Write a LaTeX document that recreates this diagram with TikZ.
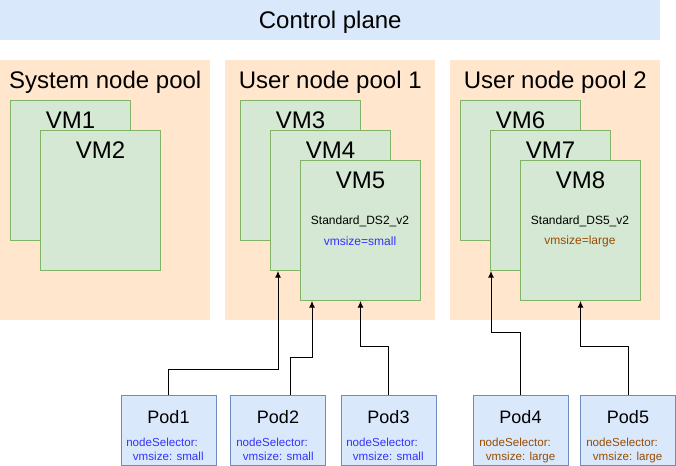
\documentclass[tikz,border=0pt]{standalone}
\usepackage{fontspec}
\setmainfont{Liberation Sans}
\usepackage{tikz}
\usetikzlibrary{arrows.meta}

\definecolor{planefill}{HTML}{DAE8FC}
\definecolor{poolfill}{HTML}{FFE6CC}
\definecolor{vmfill}{HTML}{D5E8D4}
\definecolor{vmedge}{HTML}{82B366}
\definecolor{podfill}{HTML}{DAE8FC}
\definecolor{podedge}{HTML}{6C8EBF}
\definecolor{selblue}{HTML}{3333FF}
\definecolor{selbrown}{HTML}{994C00}

\newcommand{\bigfont}{\fontsize{18}{20}\selectfont}

\tikzset{
	pool/.style={rectangle, fill=poolfill, anchor=north west, inner sep=0pt, minimum width=157.5pt, minimum height=195pt},
	vmbox/.style={rectangle, draw=vmedge, line width=0.75pt, fill=vmfill, anchor=north west, inner sep=0pt, minimum width=90pt, minimum height=105pt},
	podbox/.style={rectangle, draw=podedge, line width=0.75pt, fill=podfill, anchor=north west, inner sep=0pt, minimum width=71.25pt, minimum height=52.5pt},
	toplbl/.style={font=\bigfont, text depth=0pt, anchor=center, yshift=-15pt},
	podlbl/.style={font=\fontsize{13.5}{15}\selectfont, anchor=center, yshift=-16.5pt},
	sel/.style={font=\fontsize{8.7}{10.5}\selectfont, anchor=north west, align=left, inner sep=0pt},
	sizetxt/.style={font=\fontsize{9}{11}\selectfont},
	link/.style={-{Latex[length=5pt,width=4.5pt]}, line width=0.75pt}
}

\begin{document}
\begin{tikzpicture}[x=0.75pt,y=-0.75pt]
	\useasboundingbox (0,0) rectangle (676,466);
	
	% draw control plane
	\node[rectangle, fill=planefill, anchor=north west, inner sep=0pt, minimum width=495pt, minimum height=30pt, font=\bigfont, text depth=0pt] (plane) at (0,0) {Control plane};
	
	% draw pools
	\node[pool, label={[toplbl]north:System node pool}] (syspool) at (0,60) {};
	\node[pool, label={[toplbl]north:User node pool 1}] (userpool1) at (225,60) {};
	\node[pool, label={[toplbl]north:User node pool 2}] (userpool2) at (450,60) {};
	
	% draw vms
	\node[vmbox, label={[toplbl]north:VM1}] (vm1) at (10,100) {};
	\node[vmbox, label={[toplbl]north:VM2}] (vm2) at (40,130) {};
	
	\node[vmbox, label={[toplbl]north:VM3}] (vm3) at (240,100) {};
	\node[vmbox, label={[toplbl]north:VM4}] (vm4) at (270,130) {};
	\node[vmbox, label={[toplbl]north:VM5}] (vm5) at (300,160) {};
	\node[sizetxt] (vm5type) at (360,221) {Standard\_DS2\_v2};
	\node[sizetxt, text=selblue] (vm5size) at (360,241) {vmsize=small};
	
	\node[vmbox, label={[toplbl]north:VM6}] (vm6) at (460,100) {};
	\node[vmbox, label={[toplbl]north:VM7}] (vm7) at (490,130) {};
	\node[vmbox, label={[toplbl]north:VM8}] (vm8) at (520,160) {};
	\node[sizetxt] (vm8type) at (580,221) {Standard\_DS5\_v2};
	\node[sizetxt, text=selbrown] (vm8size) at (580,241) {vmsize=large};
	
	% draw pods
	\node[podbox, label={[podlbl]north:Pod1}] (pod1) at (120.5,395) {};
	\node[podbox, label={[podlbl]north:Pod2}] (pod2) at (230,395) {};
	\node[podbox, label={[podlbl]north:Pod3}] (pod3) at (340.5,395) {};
	\node[podbox, label={[podlbl]north:Pod4}] (pod4) at (472.5,395) {};
	\node[podbox, label={[podlbl]north:Pod5}] (pod5) at (580,395) {};
	
	\node[sel, text=selblue] (pod1sel) at (126,437.5) {nodeSelector:\\\hspace{5pt}vmsize: small};
	\node[sel, text=selblue] (pod2sel) at (236,437.5) {nodeSelector:\\\hspace{5pt}vmsize: small};
	\node[sel, text=selblue] (pod3sel) at (346,437.5) {nodeSelector:\\\hspace{5pt}vmsize: small};
	\node[sel, text=selbrown] (pod4sel) at (479,437.5) {nodeSelector:\\\hspace{5pt}vmsize: large};
	\node[sel, text=selbrown] (pod5sel) at (586,437.5) {nodeSelector:\\\hspace{5pt}vmsize: large};
	
	%%%links
	\draw[link] (pod1.north) -- ++(0,-25) -| ([xshift=6pt]vm4.south west);
	\draw[link] ([xshift=9.4pt]pod2.north) -- ++(0,-37) -| ([xshift=9pt]vm5.south west);
	\draw[link] (pod3.north) -- ++(0,-48) -| (vm5.south);
	\draw[link] (pod4.north) -- ++(0,-62) -| ([xshift=0.75pt]vm7.south west);
	\draw[link] (pod5.north) -- ++(0,-48) -| (vm8.south);
	
\end{tikzpicture}
\end{document}
